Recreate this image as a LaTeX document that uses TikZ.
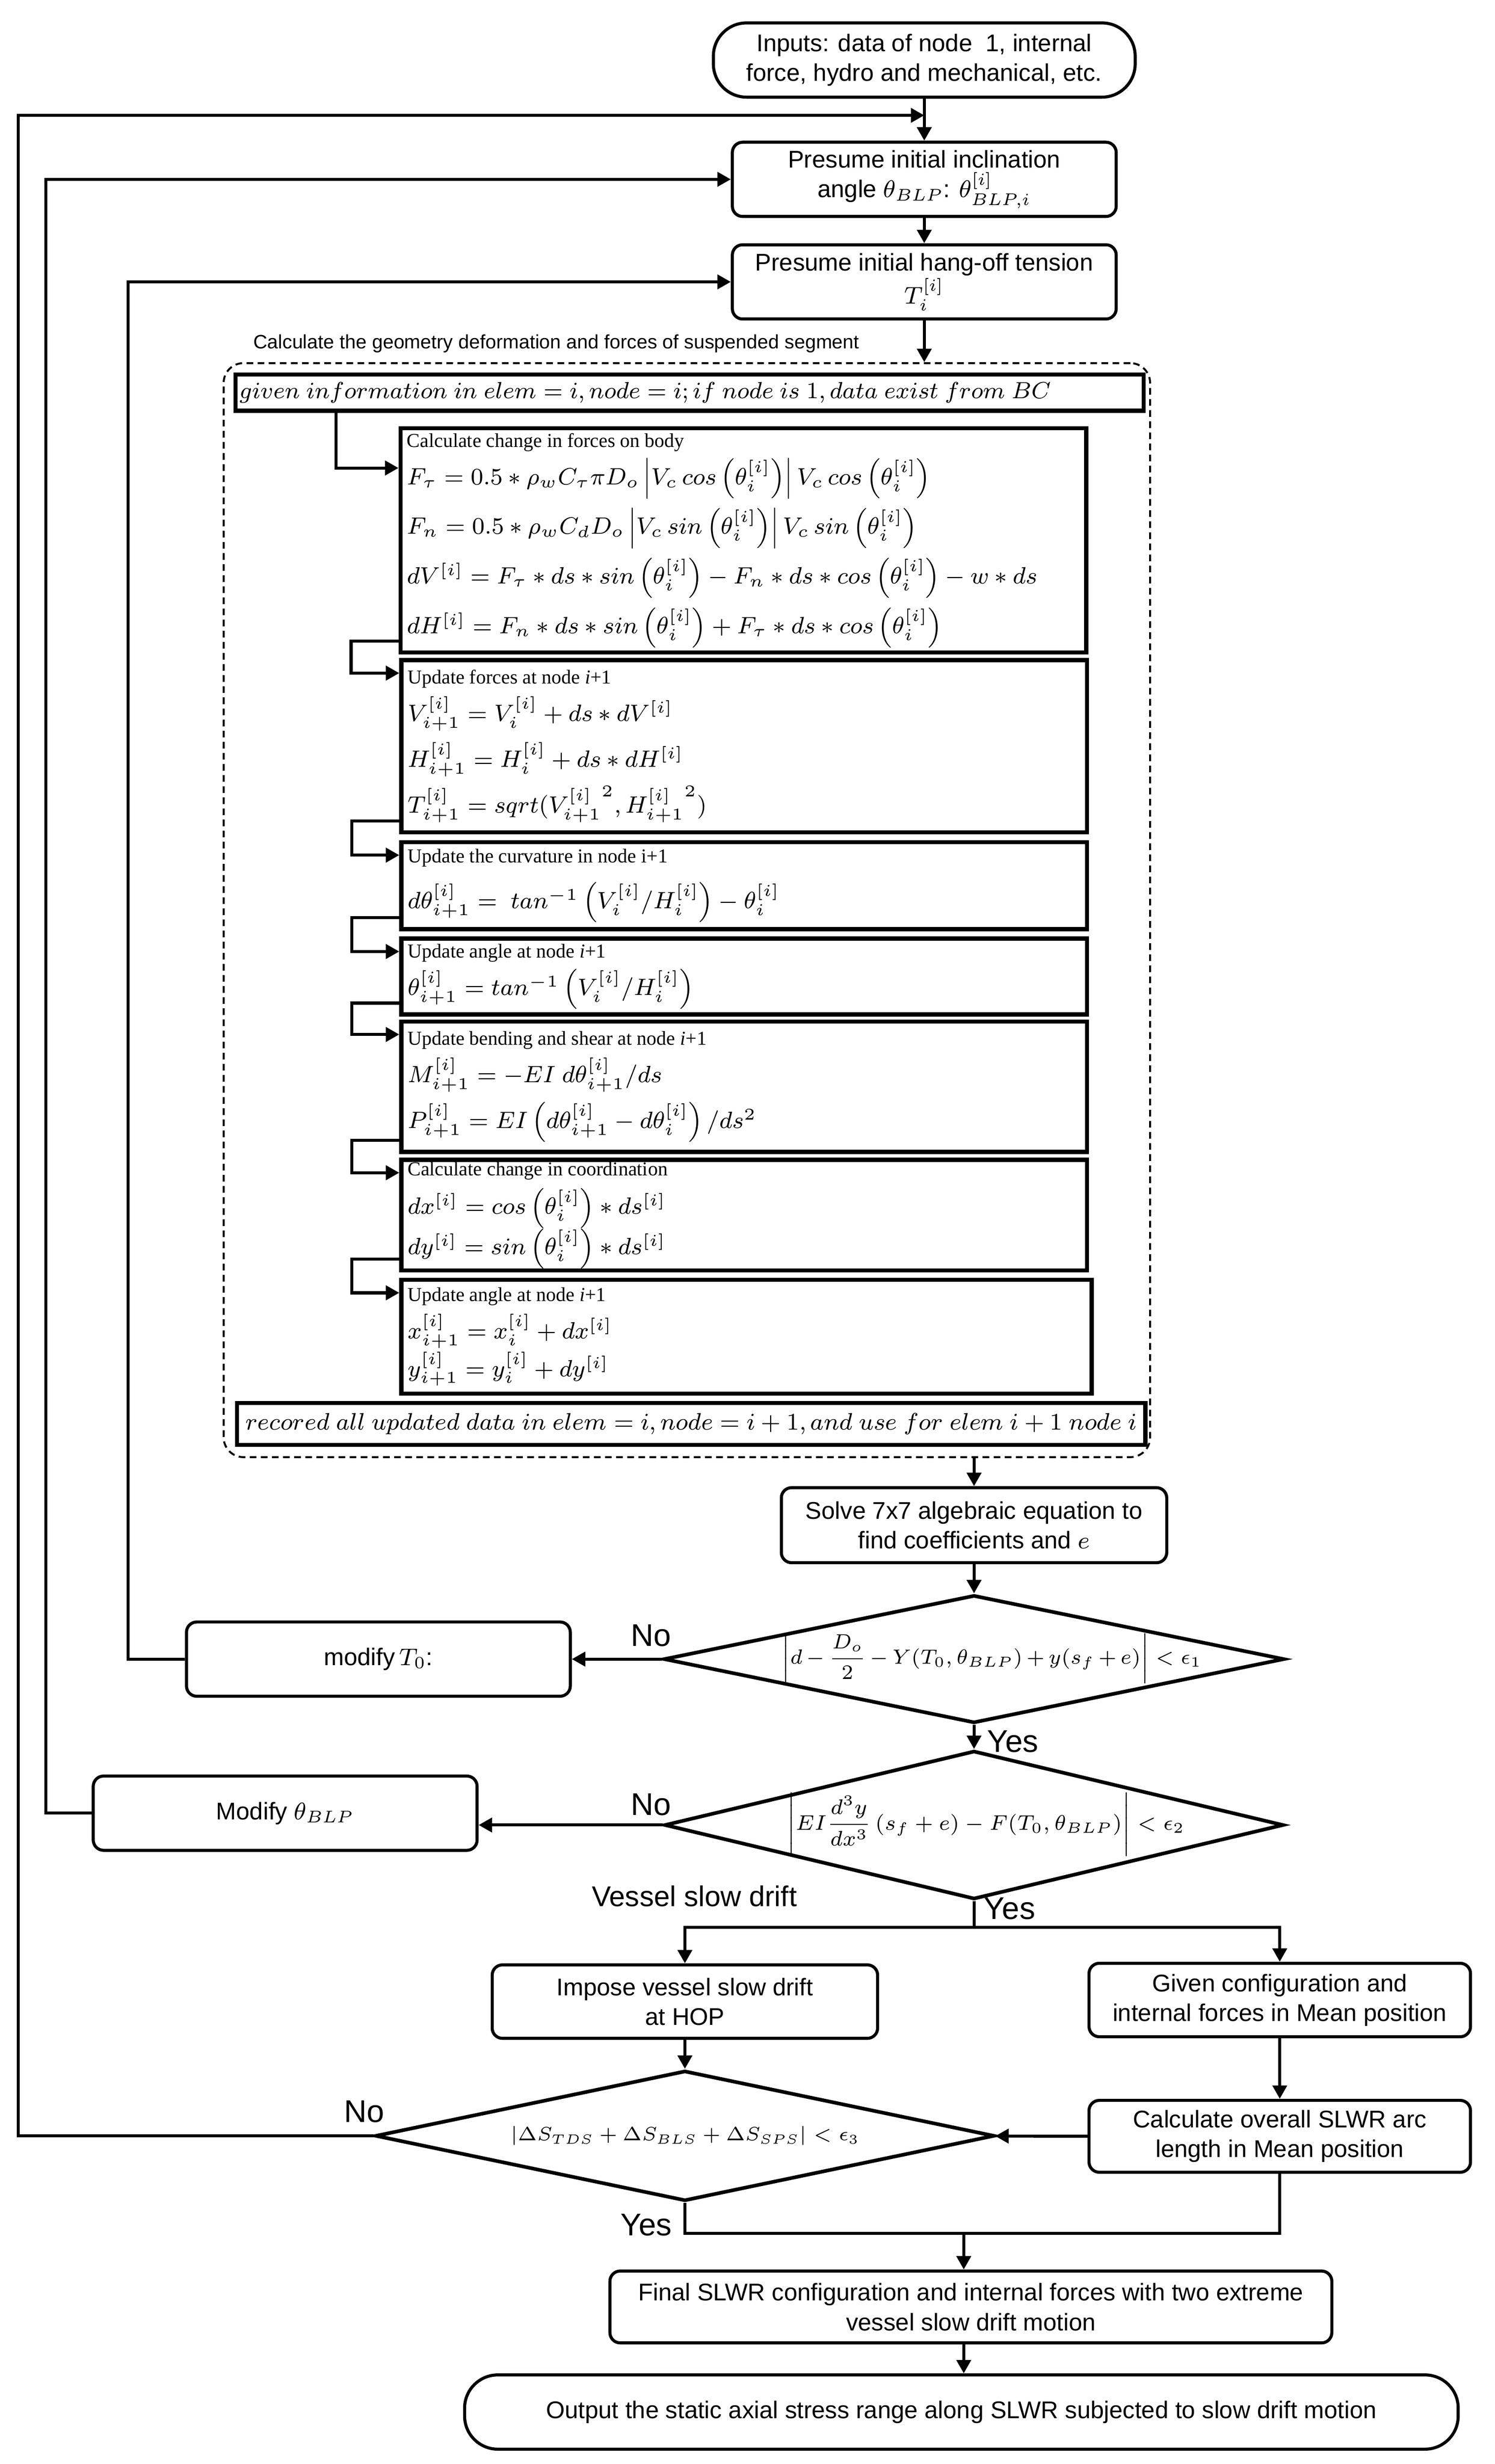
\RequirePackage{fix-cm}
\documentclass[tikz,border=0pt]{standalone}
\usepackage{amsmath}
\usepackage{fontspec}
\setmainfont{Liberation Sans}
\newfontfamily\headfont{Liberation Serif}
\usetikzlibrary{shapes.geometric,arrows.meta}
\newcommand{\boxhead}[1]{{\headfont\fontsize{7.1}{8.5}\selectfont #1}}

\begin{document}
\begin{tikzpicture}[x=0.02cm,y=-0.02cm,
    link/.style={line width=1.1pt},
    arr/.style={link,-{Triangle[length=0.17cm,width=0.18cm]}},
    process/.style={draw,line width=1.1pt,rounded corners=0.13cm,align=center,
      minimum width=4.86cm,minimum height=0.94cm,inner sep=1pt,font=\fontsize{8.7}{10.7}\selectfont},
    terminal/.style={process,rounded corners=0.42cm},
    eqbox/.style={draw,line width=1.5pt,align=flush left,inner xsep=0.08cm,inner ysep=0pt,
      text width=8.52cm,font=\fontsize{8.5}{16.5}\selectfont},
    infobar/.style={draw,line width=1.5pt,inner sep=0pt,minimum width=11.5cm},
    decide/.style={draw,diamond,line width=1.3pt,inner sep=0pt,text height=0.18cm,text depth=0.06cm},
    lbl/.style={inner sep=0pt,font=\fontsize{11.3}{12}\selectfont}]
  \useasboundingbox (0,0) rectangle (946,1559.4);

  \node[terminal,minimum width=5.34cm] (inp) at (585,38) {Inputs: data of node\ \ 1, internal\\force, hydro and mechanical, etc.};
  \node[process] (pre1) at (585,113.5) {Presume initial inclination\\angle $\theta_{BLP}$: $\theta^{[i]}_{BLP,i}$};
  \node[process] (pre2) at (585,178.4) {Presume initial hang-off tension\\$T^{[i]}_i$};
  \coordinate (j1) at (585,73);

  \node[anchor=base west,inner sep=0pt,font=\fontsize{7}{8}\selectfont] (segname) at (160,220.7) {Calculate the geometry deformation and forces of suspended segment};
  \node[draw,line width=0.7pt,dash pattern=on 2.4pt off 1.6pt,rounded corners=0.25cm,
    minimum width=11.73cm,minimum height=13.85cm] (seg) at (434.75,576) {};

  \node[infobar,minimum height=0.46cm,text width=11.4cm,align=flush left,font=\fontsize{8.4}{10}\selectfont] (given) at (436.5,248.5)
    {$given\ information\ in\ elem=i,node=i;if\ node\ is\ 1,data\ exist\ from\ BC$};

  \node[eqbox,minimum height=2.84cm] (bA) at (470.5,342) {\boxhead{Calculate change in forces on body}\\[-3pt]
    $F_\tau=0.5*\rho_wC_\tau\pi D_o\left|V_c\,cos\left(\theta_i^{[i]}\right)\right|V_c\,cos\left(\theta_i^{[i]}\right)$\\[1.4pt]
    $F_n=0.5*\rho_wC_dD_o\left|V_c\,sin\left(\theta_i^{[i]}\right)\right|V_c\,sin\left(\theta_i^{[i]}\right)$\\[1.4pt]
    $dV^{[i]}=F_\tau*ds*sin\left(\theta_i^{[i]}\right)-F_n*ds*cos\left(\theta_i^{[i]}\right)-w*ds$\\[1.4pt]
    $dH^{[i]}=F_n*ds*sin\left(\theta_i^{[i]}\right)+F_\tau*ds*cos\left(\theta_i^{[i]}\right)$};
  \node[eqbox,minimum height=2.18cm] (bB) at (471,472.3) {\boxhead{Update forces at node \textit{i}+1}\\[-3pt]
    $V_{i+1}^{[i]}=V_i^{[i]}+ds*dV^{[i]}$\\
    $H_{i+1}^{[i]}=H_i^{[i]}+ds*dH^{[i]}$\\
    $T_{i+1}^{[i]}=sqrt({V_{i+1}^{[i]}}^{2},{H_{i+1}^{[i]}}^{2})$};
  \node[eqbox,minimum height=1.1cm] (bC) at (471,560.5) {\boxhead{Update the curvature in node i+1}\\
    $d\theta_{i+1}^{[i]}=\ tan^{-1}\left(V_i^{[i]}/H_i^{[i]}\right)-\theta_i^{[i]}$};
  \node[eqbox,minimum height=0.96cm] (bD) at (471,618) {\boxhead{Update angle at node \textit{i}+1}\\[-3pt]
    $\theta_{i+1}^{[i]}=tan^{-1}\left(V_i^{[i]}/H_i^{[i]}\right)$};
  \node[eqbox,minimum height=1.65cm] (bE) at (471,687.75) {\boxhead{Update bending and shear at node \textit{i}+1}\\[-3pt]
    $M_{i+1}^{[i]}=-EI\ d\theta_{i+1}^{[i]}/ds$\\
    $P_{i+1}^{[i]}=EI\left(d\theta_{i+1}^{[i]}-d\theta_i^{[i]}\right)/ds^2$};
  \node[eqbox,minimum height=1.4cm] (bF) at (471,769) {\boxhead{Calculate change in coordination}\\[-2.5pt]
    $dx^{[i]}=cos\left(\theta_i^{[i]}\right)*ds^{[i]}$\\[-2pt]
    $dy^{[i]}=sin\left(\theta_i^{[i]}\right)*ds^{[i]}$};
  \node[eqbox,text width=8.58cm,minimum height=1.44cm] (bG) at (472.5,846) {\boxhead{Update angle at node \textit{i}+1}\\[-3pt]
    $x_{i+1}^{[i]}=x_i^{[i]}+dx^{[i]}$\\[-2.9pt]
    $y_{i+1}^{[i]}=y_i^{[i]}+dy^{[i]}$};

  \node[infobar,minimum height=0.53cm,font=\fontsize{8.6}{10}\selectfont] (rec) at (437.5,901.2)
    {$recored\ all\ updated\ data\ in\ elem=i,node=i+1,and\ use\ for\ elem\ i+1\ node\ i$};

  \node[process,minimum width=4.88cm,minimum height=0.95cm] (solve) at (616.5,965.25) {Solve 7x7 algebraic equation to\\find coefficients and $e$};
  \node[decide,minimum width=7.86cm,minimum height=1.62cm,aspect=4.85,font=\fontsize{7.4}{10}\selectfont] (d1) at (616.5,1050)
    {\hspace*{0.45cm}$\medmuskip=3mu\left|d-\dfrac{D_o}{2}-Y(T_0,\theta_{BLP})+y(s_f+e)\right|<\epsilon_1$};
  \node[process] (modT) at (239.5,1050) {modify$\,T_0$:};
  \node[decide,minimum width=7.84cm,minimum height=1.88cm,aspect=4.17,font=\fontsize{7.6}{10}\selectfont] (d2) at (616.5,1155)
    {\hspace*{0.3cm}$\left|EI\dfrac{d^3y}{dx^3}\left(s_f+e\right)-F(T_0,\theta_{BLP})\right|<\epsilon_2$};
  \node[process] (modB) at (180.5,1147.5) {Modify $\theta_{BLP}$};

  \node[process,minimum width=4.88cm,minimum height=0.93cm] (imp) at (433.5,1266.75) {Impose vessel slow drift\\at HOP};
  \node[process,minimum width=4.83cm,minimum height=0.93cm] (giv) at (810,1265.75) {Given configuration and\\internal forces in Mean position};
  \node[decide,minimum width=7.84cm,minimum height=1.65cm,aspect=4.75,font=\fontsize{6.9}{10}\selectfont] (d3) at (433.5,1351.7)
    {$|\Delta S_{TDS}+\Delta S_{BLS}+\Delta S_{SPS}|<\epsilon_3$};
  \node[process,minimum width=4.83cm,minimum height=0.91cm] (calc) at (810,1352) {Calculate overall SLWR arc\\length in Mean position};
  \node[process,minimum width=9.14cm,minimum height=0.91cm] (fin) at (614.5,1460) {Final SLWR configuration and internal forces with two extreme\\vessel slow drift motion};
  \node[terminal,minimum width=12.58cm] (out) at (608.5,1526.5) {Output the static axial stress range along SLWR subjected to slow drift motion};
  \coordinate (mrg) at (610,1413.4);

  \node[lbl] (no1) at (412,1035) {No};
  \node[lbl] (no2) at (412,1142) {No};
  \node[lbl] (no3) at (230.6,1336.5) {No};
  \node[lbl] (yes1) at (641,1102) {Yes};
  \node[lbl] (yes2) at (639,1208) {Yes};
  \node[lbl] (yes3) at (409,1408) {Yes};
  \node[inner sep=0pt,font=\fontsize{10.3}{12}\selectfont] (vsd) at (439.5,1200) {Vessel slow drift};

  \draw[arr] (inp) -- (pre1);
  \draw[arr] (pre1) -- (pre2);
  \draw[arr] (pre2) -- (pre2 |- seg.north);
  \draw[arr] ([xshift=1.3cm]given.south west) |- ([yshift=-0.53cm]bA.north west);
  \foreach \a/\b in {bA/bB,bB/bC,bC/bD,bD/bE,bE/bF,bF/bG}
    \draw[arr] ([yshift=0.17cm]\a.south west) -- ++(-0.6cm,0) |- ([yshift=-0.19cm]\b.north west);
  \draw[arr] (solve |- seg.south) -- (solve);
  \draw[arr] (solve) -- (d1);
  \draw[arr] (d1) -- (modT);
  \draw[arr] (d1) -- (d2);
  \draw[arr] (d2.west) -- (d2.west -| modB.east);
  \draw[arr] (modT.west) -- ++(-0.72cm,0) |- (pre2.west);
  \draw[arr] (modB.west) -- ++(-0.58cm,0) |- (pre1.west);
  \draw[arr] (d3.west) -- ++(-4.5cm,0) |- (j1);
  \draw[link] (d2.south) -- ++(0,-0.33cm) coordinate (split);
  \draw[arr] (split) -| (imp);
  \draw[arr] (split) -| (giv);
  \draw[arr] (imp) -- (d3);
  \draw[arr] (giv) -- (calc);
  \draw[arr] (calc) -- (d3);
  \draw[link] (d3.south) |- (mrg) -| (calc.south);
  \draw[arr] (mrg) -- (mrg |- fin.north);
  \draw[arr] (fin.south -| mrg) -- (mrg |- out.north);
\end{tikzpicture}
\end{document}
